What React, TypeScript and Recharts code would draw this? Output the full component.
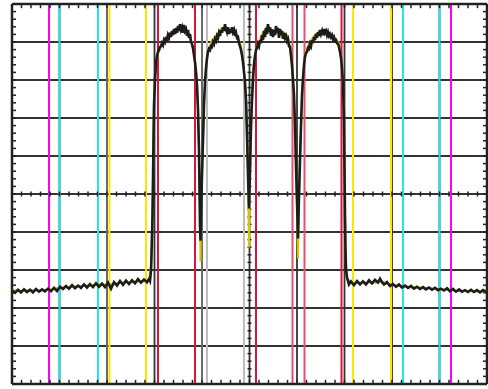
import React from 'react'
import { LineChart, Line, XAxis, YAxis, ReferenceLine } from 'recharts'

// x: sweep position (0..475, 10 divisions), y: level in dB (10 dB/div, top = 0)
const sweepTrace: [number, number][] = [
  [0, -75.3], [3, -76.0], [6, -75.2], [9, -75.9], [12, -75.1], [15, -75.8], [18, -75.2], [21, -75.9],
  [24, -75.0], [27, -75.7], [30, -75.1], [33, -75.6], [36, -74.9], [39, -75.6], [42, -74.7], [45, -75.5],
  [48, -74.4], [51, -75.0], [54, -74.2], [57, -74.9], [60, -74.0], [63, -74.8], [66, -74.1], [69, -74.7],
  [72, -73.8], [75, -74.6], [78, -73.7], [81, -74.5], [84, -73.5], [87, -74.4], [90, -73.6], [93, -74.5],
  [96, -73.3], [99, -74.9], [102, -73.2], [105, -74.1], [108, -72.9], [111, -73.9], [114, -72.8], [117, -73.7],
  [120, -72.7], [123, -73.5], [126, -72.4], [129, -73.3], [132, -72.5], [135, -73.2], [137, -72.4], [138, -72.9],
  [139, -70.2], [139.5, -66.2], [140, -60.9], [140.5, -55.7], [141, -46.4], [141.5, -35.9], [142, -26.6], [143, -20.1],
  [144, -15.3],
  // first channel
  [145, -13.7], [146, -12.6], [147, -12.1], [148, -11.3], [149, -11.1], [150, -10.3], [151, -10.8], [152, -9.5],
  [153, -10.0], [154, -8.7], [155, -9.7], [156, -8.2], [157, -8.9], [158, -7.6], [159, -8.7], [160, -7.1],
  [161, -8.2], [162, -6.6], [163, -7.9], [164, -6.3], [165, -7.6], [166, -5.8], [167, -7.1], [168, -5.3],
  [169, -6.8], [170, -6.1], [171, -7.6], [172, -5.5], [173, -7.1], [174, -6.6], [175, -8.4], [176, -6.8],
  [177, -8.9], [178, -7.9], [179, -10.0], [180, -10.5], [181, -11.6], [182, -13.5], [183, -15.3], [184, -17.9],
  [185, -21.4], [186, -28.0], [187, -38.5], [187.5, -49.1], [188, -58.3], [188.5, -62.3], [189, -55.7], [190, -45.1],
  [191, -35.9], [192, -26.6], [193, -20.6], [194, -16.9], [195, -14.2],
  // second channel
  [196, -12.6], [197, -11.8], [198, -12.1], [199, -11.1], [200, -11.3], [201, -10.0], [202, -10.5], [203, -9.2],
  [204, -9.7], [205, -8.4], [206, -8.9], [207, -7.6], [208, -8.4], [209, -6.8], [210, -7.6], [211, -6.1],
  [212, -7.1], [213, -5.3], [214, -6.6], [215, -7.4], [216, -6.1], [217, -7.9], [218, -6.6], [219, -7.6],
  [220, -6.1], [221, -7.4], [222, -6.8], [223, -8.4], [224, -7.6], [225, -8.9], [226, -8.7], [227, -10.3],
  [228, -11.1], [229, -12.1], [230, -13.5], [231, -15.3], [232, -17.9], [233, -20.6], [234, -25.3], [235, -34.6],
  [236, -45.1], [237, -53.8], [238, -43.8], [239, -31.9], [240, -25.3], [241, -19.5], [242, -15.8],
  // third channel
  [243, -13.7], [244, -12.1], [245, -11.6], [246, -10.5], [247, -11.1], [248, -9.5], [249, -10.3], [250, -8.2],
  [251, -9.5], [252, -7.1], [253, -8.7], [254, -6.3], [255, -7.9], [256, -5.3], [257, -7.4], [258, -6.1],
  [259, -8.4], [260, -6.6], [261, -8.7], [262, -6.8], [263, -8.2], [264, -5.8], [265, -7.6], [266, -6.3],
  [267, -8.9], [268, -6.6], [269, -8.2], [270, -7.1], [271, -9.2], [272, -7.6], [273, -8.9], [274, -8.4],
  [275, -9.7], [276, -9.2], [277, -11.1], [278, -11.3], [279, -13.5], [280, -16.1], [281, -20.1], [282, -24.0],
  [283, -31.9], [284, -42.5], [285, -51.7], [286, -61.7], [287, -50.4], [288, -41.2], [289, -31.9], [290, -24.0],
  [291, -19.5], [292, -16.1],
  // fourth channel
  [293, -13.9], [294, -12.9], [295, -12.6], [296, -11.6], [297, -11.8], [298, -10.5], [299, -11.1], [300, -9.5],
  [301, -10.3], [302, -8.7], [303, -9.5], [304, -7.9], [305, -8.9], [306, -7.4], [307, -8.4], [308, -6.8],
  [309, -7.9], [310, -7.1], [311, -8.2], [312, -6.6], [313, -7.6], [314, -7.1], [315, -8.2], [316, -7.4],
  [317, -8.4], [318, -7.9], [319, -8.7], [320, -8.2], [321, -9.2], [322, -8.7], [323, -9.7], [324, -9.5],
  [325, -10.3], [326, -10.5], [327, -11.3], [328, -12.6], [329, -14.2], [330, -16.9], [331, -21.4], [332, -30.6],
  [332.5, -43.8], [333, -55.7], [333.5, -64.9], [334, -69.7], [335, -72.0],
  [337, -73.8], [339, -73.0], [342, -74.0], [345, -72.9], [348, -73.8], [351, -73.0], [354, -73.8], [357, -72.7],
  [360, -73.5], [363, -72.6], [366, -73.3], [368, -72.3], [370, -73.2], [372, -73.8], [375, -73.2], [378, -74.2],
  [381, -73.7], [384, -74.4], [387, -73.8], [390, -74.6], [393, -74.1], [396, -74.7], [399, -74.2], [402, -74.9],
  [405, -74.4], [408, -75.0], [411, -74.5], [414, -75.1], [417, -74.6], [420, -75.2], [423, -74.7], [426, -75.3],
  [429, -74.9], [432, -75.4], [435, -74.8], [438, -75.6], [441, -75.0], [444, -75.7], [447, -75.1], [450, -75.7],
  [453, -75.3], [456, -75.8], [459, -75.2], [462, -75.8], [465, -75.3], [468, -75.9], [471, -75.3], [474, -75.7],
  [475, -75.5],
]

// second (yellow) sweep, mostly hidden under the black one except in the notches
const liveTrace: [number, number][] = [
  [0, -75.4], [6, -75.3], [12, -75.6], [18, -75.3], [24, -75.4], [30, -75.3], [36, -75.2], [42, -75.0],
  [48, -74.6], [54, -74.6], [60, -74.4], [66, -74.3], [72, -74.2], [78, -74.1], [84, -73.8], [90, -73.8],
  [96, -73.8], [102, -73.6], [108, -73.3], [114, -73.2], [120, -73.2], [126, -73.0], [132, -72.9], [137, -72.6],
  [139, -69.0], [140, -60.0], [141, -46.0], [142, -27.0], [143, -20.0], [144, -15.5], [146, -13.0], [150, -10.6],
  [155, -8.4], [160, -7.9], [165, -7.1], [170, -6.6], [175, -7.4], [179, -9.5], [182, -13.0], [184, -17.5],
  [186, -27.0], [187, -38.0], [188, -50.0], [188.5, -67.8], [189, -52.0], [190, -44.0], [192, -26.0], [194, -17.0],
  [196, -12.5], [200, -9.5], [205, -8.0], [210, -6.3], [215, -7.2], [220, -7.0], [225, -8.6], [229, -11.0],
  [232, -17.5], [234, -25.0], [236, -44.0], [237, -64.1], [238, -44.0], [240, -25.0], [242, -15.5], [245, -11.0],
  [250, -8.0], [255, -6.0], [260, -7.0], [265, -7.2], [270, -7.3], [275, -8.2], [278, -11.0], [281, -19.5],
  [284, -42.0], [286, -67.0], [287, -50.0], [289, -32.0], [291, -19.0], [293, -13.5], [297, -10.3], [302, -8.4],
  [307, -7.2], [312, -7.4], [317, -7.9], [322, -8.7], [327, -10.3], [330, -16.5], [332, -30.0], [333, -55.0],
  [334, -69.5], [335, -72.3], [340, -73.5], [346, -73.3], [352, -73.4], [358, -73.2], [364, -73.4], [370, -73.0],
  [376, -73.6], [382, -74.0], [388, -74.2], [394, -74.4], [400, -74.6], [406, -74.5], [412, -74.8], [418, -74.8],
  [424, -75.0], [430, -75.1], [436, -75.2], [442, -75.4], [448, -75.5], [454, -75.5], [460, -75.6], [466, -75.5],
  [472, -75.6], [475, -75.5],
]

// marker lines (sweep position)
const magentaMarkers = [37, 439]
const cyanMarkers = [47.5, 86, 391, 427.5]
const yellowMarkers = [97.5, 134, 341, 379]
const redMarkers = [146, 183, 244, 329.5]
const pinkMarkers = [280.5, 292.5]
const lightGrayMarkers = [195, 232]
const grayMarkers = [95, 190]

const X_MAX = 475
const xMajor = Array.from({ length: 11 }, (_, i) => i * 47.5)
const yMajor = Array.from({ length: 11 }, (_, i) => -100 + i * 10)
const xMinor = Array.from({ length: 51 }, (_, i) => i * 9.5)
const yMinor = Array.from({ length: 51 }, (_, i) => -100 + i * 2)

const toRows = (t: [number, number][]) => t.map(([x, y]) => ({ x, y }))

const markerLine = (xs: number[], color: string, key: string) =>
  xs.map((x) => <ReferenceLine key={key + x} x={x} stroke={color} strokeWidth={2} />)

export default function App() {
  return (
    <div style={{ width: 488, height: 389, background: '#fff' }}>
      <style>{'body{margin:0}'}</style>
      <LineChart width={488} height={389} margin={{ top: 4, right: 1, bottom: 5, left: 12 }}>
        <XAxis type="number" dataKey="x" domain={[0, X_MAX]} hide allowDataOverflow />
        <YAxis type="number" domain={[-100, 0]} hide allowDataOverflow />

        {xMajor.map((x) => (
          <ReferenceLine key={'gx' + x} x={x} stroke="#333" strokeWidth={1.8} />
        ))}
        {yMajor.map((y) => (
          <ReferenceLine key={'gy' + y} y={y} stroke="#333" strokeWidth={1.8} />
        ))}

        {markerLine(grayMarkers, '#6a6a6a', 'gm')}
        {markerLine(lightGrayMarkers, '#bdbdbd', 'lg')}
        {markerLine(magentaMarkers, '#ff00ff', 'mg')}
        {markerLine(cyanMarkers, '#22e8e8', 'cy')}
        {markerLine(yellowMarkers, '#ffe600', 'yl')}
        {markerLine(redMarkers, '#dc143c', 'rd')}
        {markerLine(pinkMarkers, '#e8506c', 'pk')}

        {/* frame */}
        <ReferenceLine x={0} stroke="#222" strokeWidth={2.5} />
        <ReferenceLine x={X_MAX} stroke="#222" strokeWidth={2.5} />
        <ReferenceLine y={0} stroke="#222" strokeWidth={2.5} />
        <ReferenceLine y={-100} stroke="#222" strokeWidth={2.5} />

        {/* minor ticks on the frame */}
        {xMinor.map((x) => (
          <ReferenceLine key={'tt' + x} segment={[{ x, y: 0 }, { x, y: -1.1 }]} stroke="#222" strokeWidth={1.5} />
        ))}
        {xMinor.map((x) => (
          <ReferenceLine key={'tb' + x} segment={[{ x, y: -100 }, { x, y: -98.9 }]} stroke="#222" strokeWidth={1.5} />
        ))}
        {yMinor.map((y) => (
          <ReferenceLine key={'tl' + y} segment={[{ x: 0, y }, { x: 4, y }]} stroke="#222" strokeWidth={1.5} />
        ))}
        {yMinor.map((y) => (
          <ReferenceLine key={'tr' + y} segment={[{ x: X_MAX - 4, y }, { x: X_MAX, y }]} stroke="#222" strokeWidth={1.5} />
        ))}

        {/* minor ticks on the centre cross */}
        {xMinor.map((x) => (
          <ReferenceLine key={'ch' + x} segment={[{ x, y: -49.35 }, { x, y: -50.65 }]} stroke="#222" strokeWidth={1.5} />
        ))}
        {yMinor.map((y) => (
          <ReferenceLine key={'cv' + y} segment={[{ x: 235.5, y }, { x: 239.5, y }]} stroke="#222" strokeWidth={1.5} />
        ))}

        <Line
          data={toRows(liveTrace)}
          dataKey="y"
          type="linear"
          stroke="#d9c200"
          strokeWidth={2}
          dot={false}
          isAnimationActive={false}
          zIndex={1500}
        />
        <Line
          data={toRows(sweepTrace)}
          dataKey="y"
          type="linear"
          stroke="#1c1c1c"
          strokeWidth={2.6}
          dot={false}
          isAnimationActive={false}
          zIndex={1600}
        />
      </LineChart>
    </div>
  )
}
